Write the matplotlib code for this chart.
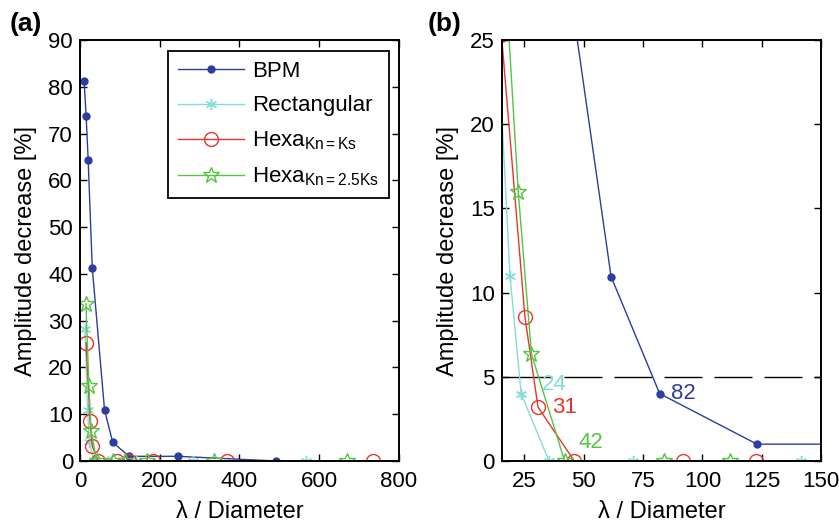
import numpy as np
import matplotlib
matplotlib.use('Agg')
import matplotlib.pyplot as plt

plt.rcParams['font.family'] = ['Liberation Sans', 'DejaVu Sans']
plt.rcParams['mathtext.fontset'] = 'custom'
plt.rcParams['mathtext.rm'] = 'Liberation Sans'
plt.rcParams['mathtext.it'] = 'Liberation Sans:italic'
plt.rcParams['lines.scale_dashes'] = False

# 数据：λ / Diameter 与振幅衰减 [%]
bpm_x = [10.25, 15.4, 20.5, 30.75, 61.5, 82, 123, 246, 492]
bpm_y = [81.3, 73.7, 64.3, 41.3, 10.95, 4.0, 1.0, 1.0, 0.0]

rect_x = [12.6, 18.9, 23.6, 35.35, 70.7, 141.4, 282.8, 565.7]
rect_y = [28.3, 11.0, 4.0, 0.0, 0.0, 0.0, 0.0, 0.0]

hexa1_x = [15.3, 25.2, 30.7, 46, 92, 122.7, 184, 368, 736]
hexa1_y = [25.3, 8.55, 3.2, 0.0, 0.0, 0.0, 0.0, 0.0, 0.0]

hexa2_x = [14.9, 22.36, 27.95, 41.93, 83.85, 111.8, 167.7, 335.4, 670.8]
hexa2_y = [33.6, 16.0, 6.35, 0.0, 0.0, 0.0, 0.0, 0.0, 0.0]

threshold = 5
# 衰减低于5%时的 λ/D
cut_labels = ['24', '31', '42', '82']

c_bpm = '#2b3d9f'
c_rect = '#84dcd6'
c_hexa1 = '#e8352c'
c_hexa2 = '#55c443'

PX = 0.72  # 像素 -> 点


def draw_series(ax):
    ax.plot(bpm_x, bpm_y, '-', color=c_bpm, lw=1.0, marker='o', ms=5,
            mfc=c_bpm, mec=c_bpm, label='BPM')
    ax.plot(rect_x, rect_y, '-', color=c_rect, lw=1.0, marker=(6, 2, 0), ms=8,
            mec=c_rect, mew=1.0, label='Rectangular')
    ax.plot(hexa1_x, hexa1_y, '-', color=c_hexa1, lw=1.0, marker='o', ms=10,
            mfc='none', mec=c_hexa1, mew=1.0, label=r'Hexa$_{\mathrm{Kn{=}Ks}}$')
    ax.plot(hexa2_x, hexa2_y, '-', color=c_hexa2, lw=1.0, marker='*', ms=12,
            mfc='none', mec=c_hexa2, mew=1.0, label=r'Hexa$_{\mathrm{Kn{=}2.5Ks}}$')


def style_axes(ax):
    ax.tick_params(direction='in', top=True, right=True, length=5, width=1.0,
                   labelsize=16)
    ax.tick_params(axis='x', pad=7)
    ax.tick_params(axis='y', pad=5)
    for s in ax.spines.values():
        s.set_linewidth(1.4)
    ax.set_xlabel('λ / Diameter', fontsize=17, labelpad=7)
    ax.set_ylabel('Amplitude decrease [%]', fontsize=17, labelpad=8)


fig = plt.figure(figsize=(8.39, 5.25), dpi=100)
ax1 = fig.add_axes([80 / 839, 64 / 525, 319 / 839, 421 / 525])
ax2 = fig.add_axes([501.7 / 839, 64 / 525, 319.3 / 839, 421 / 525])

# (a) 全范围
draw_series(ax1)
ax1.set_xlim(0, 800)
ax1.set_ylim(0, 90)
ax1.set_xticks(np.arange(0, 801, 200))
ax1.set_yticks(np.arange(0, 91, 10))
style_axes(ax1)
leg = ax1.legend(loc='upper right', bbox_to_anchor=((389 - 80) / 319, (461 - 51) / 421),
                 borderaxespad=0, fontsize=16, numpoints=1, fancybox=False,
                 edgecolor='black', framealpha=1, handlelength=3.0,
                 handletextpad=0.35, labelspacing=0.6, borderpad=0.45)
leg.get_frame().set_linewidth(1.3)

# (b) 局部放大
ax2.plot([0, 150], [threshold, threshold], color='black', lw=1.0,
         dashes=[v * PX for v in [87, 12, 38, 12, 38, 12, 38, 12, 38, 12, 38, 12]])
draw_series(ax2)
ax2.set_xlim(15.4, 150)
ax2.set_ylim(0, 25)
ax2.set_xticks(np.arange(25, 151, 25))
ax2.set_yticks(np.arange(0, 26, 5))
style_axes(ax2)

ax2.text(32.3, 4.57, cut_labels[0], color=c_rect, fontsize=16, va='center', ha='left')
ax2.text(36.5, 3.18, cut_labels[1], color=c_hexa1, fontsize=16, va='center', ha='left')
ax2.text(47.8, 1.1, cut_labels[2], color=c_hexa2, fontsize=16, va='center', ha='left')
ax2.text(86.7, 3.99, cut_labels[3], color=c_bpm, fontsize=16, va='center', ha='left')

fig.text(10 / 839, 1 - 12 / 525, '(a)', fontsize=19, fontweight='bold', va='top', ha='left')
fig.text(428 / 839, 1 - 12 / 525, '(b)', fontsize=19, fontweight='bold', va='top', ha='left')

fig.savefig('out.png', dpi=100)
